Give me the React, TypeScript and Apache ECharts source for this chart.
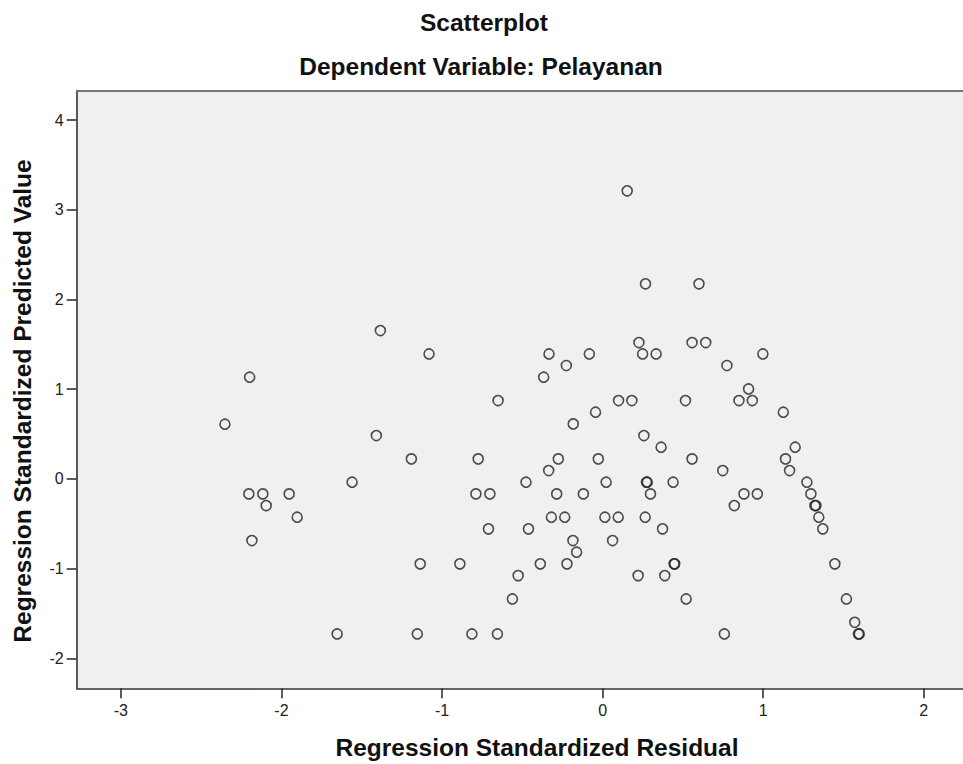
import React, { useEffect, useRef } from "react";
import * as echarts from "echarts";

const chartTitle = "Scatterplot";
const chartSubtitle = "Dependent Variable: Pelayanan";
const xAxisTitle = "Regression Standardized Residual";
const yAxisTitle = "Regression Standardized Predicted Value";

const xTickValues = [-3, -2, -1, 0, 1, 2];
const yTickValues = [-2, -1, 0, 1, 2, 3, 4];

// Regression Standardized Residual (x)
const residuals = [
  0.153, 0.267, 0.6, -1.384, 0.226, 0.557, 0.642, -1.081, -0.334, -0.083,
  0.249, 0.333, 0.998, -0.226, 0.774, -2.198, -0.367, 0.909, -0.651, 0.099,
  0.182, 0.516, 0.849, 0.932, -0.044, 1.125, -2.352, -0.183, -1.409, 0.257,
  0.364, 1.199, -1.191, -0.775, -0.276, -0.027, 0.557, 1.139, -0.336, 0.748,
  1.164, -1.56, -0.477, 0.022, 0.273, 0.278, 0.439, 1.272, -2.203, -2.116,
  -1.952, -0.789, -0.702, -0.286, -0.12, 0.298, 0.88, 0.963, 1.297, -2.095,
  0.82, 1.322, 1.328, -1.902, -0.319, -0.236, 0.014, 0.097, 0.265, 1.346,
  -0.711, -0.462, 0.373, 1.371, -2.184, -0.185, 0.062, -0.162, -1.136, -0.889,
  -0.388, -0.222, 0.445, 0.449, 1.446, -0.526, 0.221, 0.387, -0.562, 0.52,
  1.518, 1.57, -1.653, -1.154, -0.814, -0.655, 0.758, 1.593, 1.598,
];

// Regression Standardized Predicted Value (y)
const predicted = [
  3.211, 2.174, 2.174, 1.653, 1.52, 1.52, 1.52, 1.393, 1.393, 1.393,
  1.393, 1.393, 1.393, 1.264, 1.264, 1.134, 1.134, 1.003, 0.873, 0.873,
  0.873, 0.873, 0.873, 0.873, 0.743, 0.743, 0.61, 0.613, 0.483, 0.483,
  0.353, 0.353, 0.223, 0.223, 0.223, 0.223, 0.223, 0.223, 0.093, 0.093,
  0.093, -0.037, -0.037, -0.037, -0.037, -0.037, -0.037, -0.037, -0.167, -0.167,
  -0.167, -0.167, -0.167, -0.167, -0.167, -0.167, -0.167, -0.167, -0.167, -0.297,
  -0.297, -0.297, -0.297, -0.427, -0.427, -0.427, -0.427, -0.427, -0.427, -0.427,
  -0.557, -0.557, -0.557, -0.557, -0.687, -0.687, -0.687, -0.817, -0.947, -0.947,
  -0.947, -0.947, -0.947, -0.947, -0.947, -1.078, -1.078, -1.078, -1.338, -1.338,
  -1.338, -1.598, -1.728, -1.728, -1.728, -1.728, -1.728, -1.728, -1.728,
];

const FONT = '"Liberation Sans", Arial, sans-serif';

export default function App() {
  const ref = useRef<HTMLDivElement>(null);

  useEffect(() => {
    if (!ref.current) return;
    const chart = echarts.init(ref.current, null, { renderer: "svg" });
    const points = residuals.map((x, i) => [x, predicted[i]]);

    chart.setOption({
      animation: false,
      backgroundColor: "#ffffff",
      textStyle: { fontFamily: FONT },
      grid: {
        left: 76.7,
        top: 90.5,
        right: -2,
        bottom: 75.7,
        show: true,
        backgroundColor: "#f0f0f0",
        borderWidth: 0,
        containLabel: false,
      },
      graphic: [
        {
          type: "text",
          x: 484,
          y: 22,
          style: {
            text: chartTitle,
            font: `bold 24.5px ${FONT}`,
            fill: "#111",
            align: "center",
            verticalAlign: "middle",
          },
        },
        {
          type: "text",
          x: 481,
          y: 66,
          style: {
            text: chartSubtitle,
            font: `bold 24.5px ${FONT}`,
            fill: "#111",
            align: "center",
            verticalAlign: "middle",
          },
        },
        {
          type: "text",
          x: 537,
          y: 747,
          style: {
            text: xAxisTitle,
            font: `bold 24.5px ${FONT}`,
            fill: "#111",
            align: "center",
            verticalAlign: "middle",
          },
        },
        {
          type: "text",
          x: 22,
          y: 401,
          rotation: Math.PI / 2,
          style: {
            text: yAxisTitle,
            font: `bold 24.5px ${FONT}`,
            fill: "#111",
            align: "center",
            verticalAlign: "middle",
          },
        },
      ],
      xAxis: [
        {
          type: "value",
          min: -3.275,
          max: 2.244,
          position: "bottom",
          splitLine: { show: false },
          axisLine: { show: true, onZero: false, lineStyle: { color: "#333", width: 1.6 } },
          axisTick: {
            show: true,
            length: 10,
            customValues: xTickValues,
            lineStyle: { color: "#333", width: 1.6 },
          },
          axisLabel: {
            show: true,
            margin: 14,
            customValues: xTickValues,
            color: "#222",
            fontSize: 16,
            fontFamily: FONT,
          },
        },
        {
          type: "value",
          min: -3.275,
          max: 2.244,
          position: "top",
          splitLine: { show: false },
          axisLine: { show: true, onZero: false, lineStyle: { color: "#777", width: 2 } },
          axisTick: { show: false },
          axisLabel: { show: false },
        },
      ],
      yAxis: {
        type: "value",
        min: -2.334,
        max: 4.329,
        splitLine: { show: false },
        axisLine: { show: true, onZero: false, lineStyle: { color: "#333", width: 1.6 } },
        axisTick: {
          show: true,
          length: 10,
          customValues: yTickValues,
          lineStyle: { color: "#333", width: 1.6 },
        },
        axisLabel: {
          show: true,
          margin: 13,
          customValues: yTickValues,
          color: "#222",
          fontSize: 16,
          fontFamily: FONT,
        },
      },
      series: [
        {
          type: "scatter",
          xAxisIndex: 0,
          yAxisIndex: 0,
          data: points,
          symbol: "circle",
          symbolSize: 10,
          itemStyle: {
            color: "rgba(0,0,0,0)",
            borderColor: "#222",
            borderWidth: 1.6,
          },
          emphasis: { disabled: true },
        },
      ],
    });

    return () => chart.dispose();
  }, []);

  return (
    <div
      ref={ref}
      style={{ position: "fixed", left: 0, top: 0, width: 963, height: 764 }}
    />
  );
}
